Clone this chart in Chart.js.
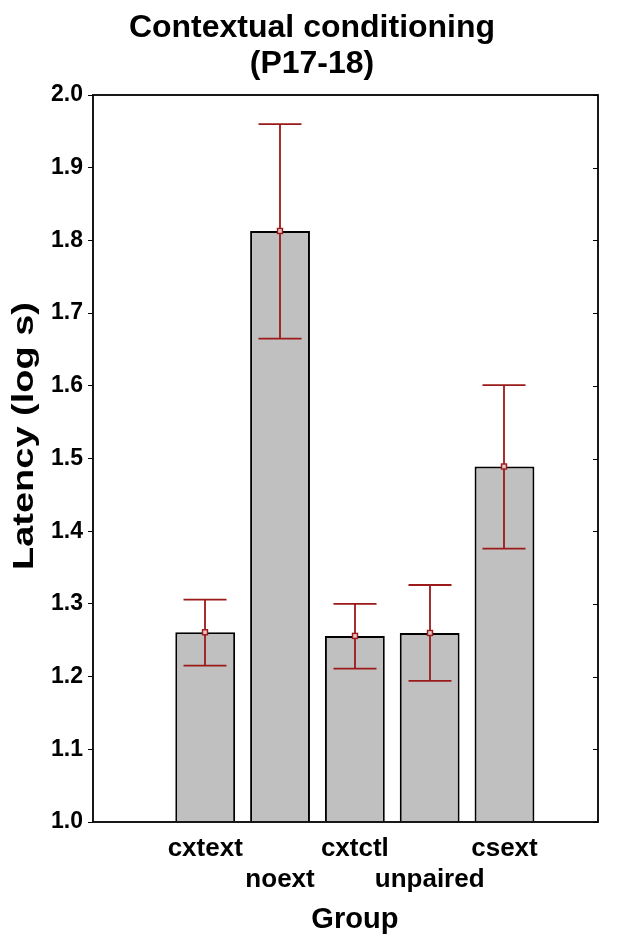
<!DOCTYPE html>
<html>
<head>
<meta charset="utf-8">
<script src="https://cdn.jsdelivr.net/npm/chart.js@4/dist/chart.umd.min.js"></script>
<style>
  html, body { margin: 0; padding: 0; background: #fff; }
  #wrap { width: 624px; height: 945px; }
</style>
</head>
<body>
<div id="wrap"><canvas id="chart"></canvas></div>
<script>
const groups = ["cxtext", "noext", "cxtctl", "unpaired", "csext"];
const groupPos = [1, 2, 3, 4, 5];
const means = [1.261, 1.813, 1.256, 1.260, 1.489];
const upper = [1.306, 1.960, 1.300, 1.326, 1.601];
const lower = [1.215, 1.665, 1.211, 1.194, 1.376];
const yTicks = [1.0, 1.1, 1.2, 1.3, 1.4, 1.5, 1.6, 1.7, 1.8, 1.9, 2.0];

const FONT = "'Liberation Sans', Arial, sans-serif";
const ERR = "#9b1a1a";

// box, right-side ticks, error bars and axis titles
const extras = {
  id: "extras",
  afterDatasetsDraw(chart) {
    const ctx = chart.ctx;
    const area = chart.chartArea;
    const x = chart.scales.x;
    const y = chart.scales.y;

    ctx.save();
    ctx.strokeStyle = ERR;
    const meta = chart.getDatasetMeta(0);
    meta.data.forEach((bar, i) => {
      const cx = Math.round(bar.x);
      const yHi = y.getPixelForValue(upper[i]);
      const yLo = y.getPixelForValue(lower[i]);
      const yM = y.getPixelForValue(means[i]);
      ctx.lineWidth = 1.8;
      ctx.beginPath();
      ctx.moveTo(cx, yHi);
      ctx.lineTo(cx, yLo);
      ctx.moveTo(cx - 21.5, yHi);
      ctx.lineTo(cx + 21.5, yHi);
      ctx.moveTo(cx - 21.5, yLo);
      ctx.lineTo(cx + 21.5, yLo);
      ctx.stroke();
      ctx.fillStyle = "#e6c4c4";
      ctx.fillRect(cx - 2.5, yM - 2.5, 5, 5);
      ctx.lineWidth = 1.4;
      ctx.strokeRect(cx - 2.5, yM - 2.5, 5, 5);
    });
    ctx.restore();

    ctx.save();
    ctx.strokeStyle = "#000";
    ctx.lineWidth = 1.8;
    ctx.strokeRect(area.left, area.top, area.right - area.left, area.bottom - area.top);
    ctx.lineWidth = 1;
    ctx.beginPath();
    yTicks.forEach(v => {
      const py = Math.round(y.getPixelForValue(v)) + 0.5;
      ctx.moveTo(area.right, py);
      ctx.lineTo(area.right - 5, py);
    });
    ctx.stroke();

    ctx.fillStyle = "#000";
    ctx.textAlign = "center";
    ctx.textBaseline = "middle";
    ctx.font = "bold 29px " + FONT;
    const first = x.getPixelForValue(groupPos[0]);
    const last = x.getPixelForValue(groupPos[groupPos.length - 1]);
    ctx.fillText("Group", (first + last) / 2, 920);

    ctx.font = "bold 29px " + FONT;
    const yTitle = "Latency (log s)";
    const stretch = 268 / ctx.measureText(yTitle).width;
    ctx.translate(25, 436);
    ctx.rotate(-Math.PI / 2);
    ctx.scale(stretch, 1);
    ctx.fillText(yTitle, 0, 0);
    ctx.restore();
  }
};

new Chart(document.getElementById("chart"), {
  type: "bar",
  data: {
    datasets: [{
      data: groupPos.map((p, i) => ({ x: p, y: means[i] })),
      base: 1,
      backgroundColor: "#c0c0c0",
      borderColor: "#000",
      borderWidth: 2,
      barPercentage: 0.8,
      categoryPercentage: 1.0
    }]
  },
  options: {
    responsive: true,
    maintainAspectRatio: false,
    animation: false,
    layout: { padding: 0 },
    plugins: {
      legend: { display: false },
      tooltip: { enabled: false },
      title: {
        display: true,
        text: ["Contextual conditioning", "(P17-18)"],
        color: "#000",
        font: { family: FONT, size: 32, weight: "bold", lineHeight: "36px" },
        padding: { top: 10, bottom: 13 }
      }
    },
    scales: {
      x: {
        type: "linear",
        offset: false,
        min: -0.5,
        max: 6.25,
        afterBuildTicks: (scale) => {
          scale.ticks = groupPos.map(v => ({ value: v }));
        },
        afterFit: (scale) => { scale.height = 123; },
        grid: { display: false, drawTicks: false },
        border: { display: false },
        ticks: {
          autoSkip: false,
          maxRotation: 0,
          padding: 11,
          color: "#000",
          font: { family: FONT, size: 26, weight: "bold", lineHeight: 1.2 },
          callback: (v) => {
            const i = groupPos.indexOf(v);
            if (i < 0) return "";
            return i % 2 === 0 ? [groups[i]] : ["", groups[i]];
          }
        }
      },
      y: {
        min: 1.0,
        max: 2.0,
        afterBuildTicks: (scale) => {
          scale.ticks = yTicks.map(v => ({ value: v }));
        },
        afterFit: (scale) => { scale.width = 93; },
        grid: { drawOnChartArea: false, drawTicks: true, tickLength: 5, color: "#000" },
        border: { display: false },
        ticks: {
          padding: 5,
          color: "#000",
          font: { family: FONT, size: 23, weight: "bold" },
          callback: (v) => v.toFixed(1)
        }
      },
      // empty right margin
      yRight: {
        position: "right",
        min: 1.0,
        max: 2.0,
        afterFit: (scale) => { scale.width = 26; },
        grid: { display: false },
        border: { display: false },
        ticks: { display: false }
      }
    }
  },
  plugins: [extras]
});
</script>
</body>
</html>
